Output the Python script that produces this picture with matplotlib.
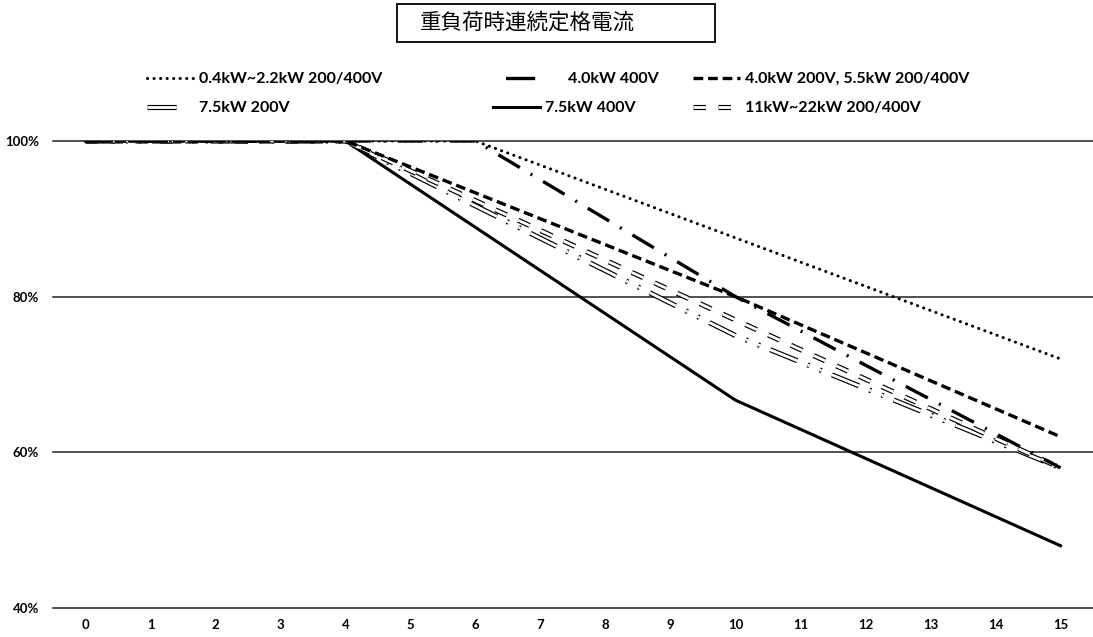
import matplotlib
matplotlib.use("Agg")
import matplotlib.pyplot as plt
import matplotlib.patheffects as pe
from matplotlib.patches import Rectangle
from matplotlib.lines import Line2D

plt.rcParams["lines.scale_dashes"] = False
plt.rcParams["font.family"] = ["Lato", "DejaVu Sans"]

TITLE = "重負荷時連続定格電流"
XTICKS = list(range(16))
YTICKS = [40, 60, 80, 100]

# breakpoints (carrier frequency kHz -> % rated current)
lbl_a = "0.4kW~2.2kW 200/400V"
x_a = [0, 6, 15]
y_a = [100, 100, 72]

lbl_b = "4.0kW 400V"
x_b = [0, 6, 10, 15]
y_b = [100, 100, 80, 58]

lbl_c = "4.0kW 200V, 5.5kW 200/400V"
x_c = [0, 4, 10, 15]
y_c = [100, 100, 80, 62]

lbl_d = "7.5kW 200V"
x_d = [0, 4, 10, 15]
y_d = [100, 100, 75, 58]

lbl_e = "7.5kW 400V"
x_e = [0, 4, 10, 15]
y_e = [100, 100, 66.7, 48]

lbl_f = "11kW~22kW 200/400V"
x_f = [0, 4, 10, 15]
y_f = [100, 100, 77, 58]

W, H = 1093, 637
fig = plt.figure(figsize=(W / 100, H / 100), dpi=100)
ax = fig.add_axes([53 / W, 1 - 608 / H, 1 - 53 / W, (608 - 141) / H])

for y in YTICKS:
    ax.axhline(y, color="#222222", lw=1.1, zorder=1, clip_on=False)

dbl = lambda: [pe.Stroke(linewidth=3.7, foreground="black"),
               pe.Stroke(linewidth=2.0, foreground="white")]

styles = {
    "a": dict(color="black", lw=2.2, dashes=(0.1, 4.6), dash_capstyle="round"),
    "b": dict(color="black", lw=2.4, dashes=(18, 9, 1.5, 9)),
    "c": dict(color="black", lw=2.4, dashes=(7, 3.5)),
    "d": dict(color="black", lw=2.4, dashes=(21, 8, 1.5, 8, 1.5, 8), path_effects=dbl()),
    "e": dict(color="black", lw=2.2, solid_joinstyle="round"),
    "f": dict(color="black", lw=2.4, dashes=(9, 9), path_effects=dbl()),
}

ax.plot(x_e, y_e, zorder=3, **styles["e"])
ax.plot(x_d, y_d, zorder=3, **styles["d"])
ax.plot(x_f, y_f, zorder=3, **styles["f"])
ax.plot(x_c, y_c, zorder=3, **styles["c"])
ax.plot(x_b, y_b, zorder=3, **styles["b"])
ax.plot(x_a, y_a, zorder=3, **styles["a"])

ax.set_xlim(-0.5, 15.5)
ax.set_ylim(40, 100)
ax.set_xticks(XTICKS)
ax.set_yticks(YTICKS)
ax.set_yticklabels([f"{v}%" for v in YTICKS])
ax.tick_params(length=0, labelsize=9.5)
ax.tick_params(axis="x", pad=8)
ax.tick_params(axis="y", pad=10)
for t in ax.get_xticklabels() + ax.get_yticklabels():
    t.set_fontweight("bold")
for s in ax.spines.values():
    s.set_visible(False)

# legend: one small legend per entry, placed like the original
leg_b = dict(styles["b"])
leg_b.pop("dashes")
leg_b["linestyle"] = (0, (0.001, 9, 21, 60))
leg_d = dict(styles["d"])
leg_d.pop("dashes")
leg_d["linestyle"] = (0, (21, 30))
leg_styles = {"a": styles["a"], "b": leg_b, "c": styles["c"],
              "d": leg_d, "e": styles["e"], "f": styles["f"]}

entries = [
    (147, 79, "a", lbl_a, 2.95),
    (493, 79, "b", lbl_b, 4.4),
    (693, 79, "c", lbl_c, 2.95),
    (147, 108, "d", lbl_d, 2.95),
    (493, 108, "e", lbl_e, 2.95),
    (693, 108, "f", lbl_f, 2.95),
]
for x0, yc, key, label, hl in entries:
    fig.legend([Line2D([], [], **leg_styles[key])], [label], loc="center left",
               bbox_to_anchor=(x0 / W, 1 - yc / H), frameon=False,
               prop=dict(family=["Lato", "DejaVu Sans"], weight="bold", size=11.5),
               handlelength=hl, handletextpad=0.3, borderpad=0, borderaxespad=0)

# boxed title
fig.patches.append(Rectangle((397 / W, 1 - 42 / H), (715 - 397) / W, 38 / H,
                             transform=fig.transFigure, fill=False, ec="black", lw=1.3))
fig.text(420 / W, 1 - 23 / H, TITLE, ha="left", va="center", fontsize=15.5,
         family=["Noto Sans CJK JP", "DejaVu Sans"])

fig.savefig("out.png", dpi=100)
